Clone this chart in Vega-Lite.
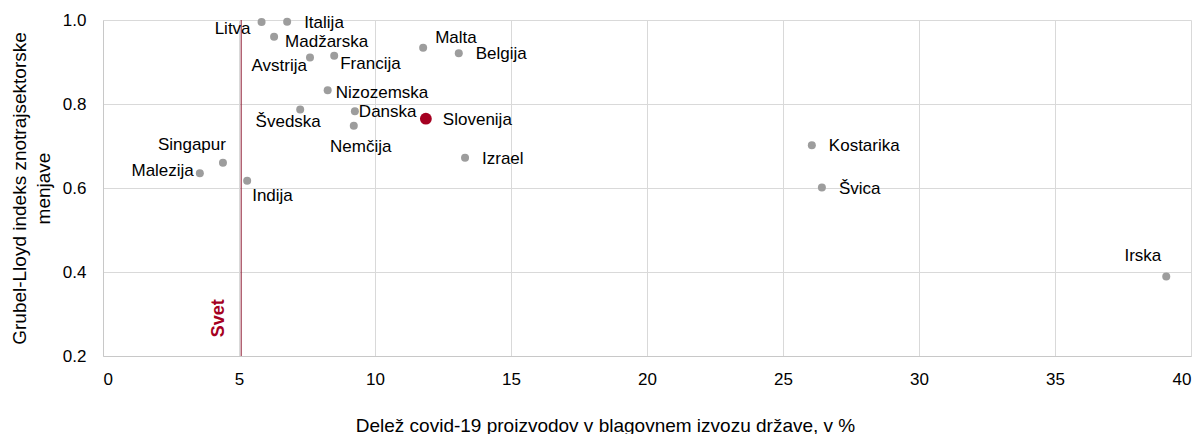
{
  "$schema": "https://vega.github.io/schema/vega-lite/v6.json",
  "width": 1088,
  "height": 336,
  "autosize": {"type": "none"},
  "padding": {"left": 103, "top": 20, "right": 12, "bottom": 78},
  "background": "white",
  "config": {
    "font": "Liberation Sans",
    "view": {"stroke": null},
    "axis": {
      "labelFont": "Liberation Sans",
      "labelFontSize": 17,
      "labelColor": "#000000",
      "titleFont": "Liberation Sans",
      "titleFontSize": 19,
      "titleFontWeight": "normal",
      "titleColor": "#000000",
      "gridColor": "#d9d9d9",
      "gridWidth": 1,
      "domainColor": "#c8c8c8",
      "ticks": false
    },
    "text": {"font": "Liberation Sans", "fontSize": 17, "color": "#000000", "baseline": "middle"}
  },
  "data": {
    "values": [
      {"country": "Litva", "x": 5.83, "y": 0.995},
      {"country": "Italija", "x": 6.77, "y": 0.996},
      {"country": "Madžarska", "x": 6.29, "y": 0.960},
      {"country": "Avstrija", "x": 7.61, "y": 0.911},
      {"country": "Francija", "x": 8.50, "y": 0.915},
      {"country": "Nizozemska", "x": 8.26, "y": 0.833},
      {"country": "Švedska", "x": 7.25, "y": 0.787},
      {"country": "Danska", "x": 9.26, "y": 0.783},
      {"country": "Nemčija", "x": 9.22, "y": 0.748},
      {"country": "Slovenija", "x": 11.87, "y": 0.765},
      {"country": "Malta", "x": 11.77, "y": 0.934},
      {"country": "Belgija", "x": 13.08, "y": 0.921},
      {"country": "Izrael", "x": 13.31, "y": 0.672},
      {"country": "Singapur", "x": 4.41, "y": 0.660},
      {"country": "Malezija", "x": 3.56, "y": 0.635},
      {"country": "Indija", "x": 5.30, "y": 0.617},
      {"country": "Kostarika", "x": 26.06, "y": 0.702},
      {"country": "Švica", "x": 26.43, "y": 0.601},
      {"country": "Irska", "x": 39.09, "y": 0.389}
    ]
  },
  "encoding": {
    "x": {
      "field": "x",
      "type": "quantitative",
      "scale": {"domain": [0, 40], "nice": false, "zero": false},
      "axis": {
        "values": [0, 5, 10, 15, 20, 25, 30, 35, 40],
        "title": "Delež covid-19 proizvodov v blagovnem izvozu države, v %",
        "labelPadding": 15,
        "titleX": 502,
        "titleY": 69,
        "titleBaseline": "middle",
        "titleAlign": "center",
        "titleAnchor": null,
        "grid": true
      }
    },
    "y": {
      "field": "y",
      "type": "quantitative",
      "scale": {"domain": [0.2, 1.0], "nice": false, "zero": false},
      "axis": {
        "values": [0.2, 0.4, 0.6, 0.8, 1.0],
        "format": ".1f",
        "title": ["Grubel-Lloyd indeks znotrajsektorske", "menjave"],
        "labelPadding": 17,
        "titlePadding": 9,
        "titleLineHeight": 24,
        "grid": true
      }
    }
  },
  "layer": [
    {
      "data": {"values": [{"x": 5.08, "y": 0.2, "y2": 1.0}]},
      "mark": {"type": "rule", "color": "#8c1830", "strokeWidth": 1},
      "encoding": {"y2": {"field": "y2"}}
    },
    {
      "data": {"values": [{"x": 5.08, "y": 0.29, "label": "Svet"}]},
      "mark": {"type": "text", "angle": 270, "align": "center", "baseline": "alphabetic", "dy": -17, "fontSize": 18, "fontWeight": "bold", "color": "#a50021"},
      "encoding": {"text": {"field": "label"}}
    },
    {
      "transform": [{"filter": "datum.country != 'Slovenija'"}],
      "mark": {"type": "circle", "size": 64, "color": "#9d9d9d", "opacity": 1}
    },
    {
      "transform": [{"filter": "datum.country == 'Slovenija'"}],
      "mark": {"type": "circle", "size": 140, "color": "#a50021", "opacity": 1}
    },
    {
      "transform": [{"filter": {"field": "country", "oneOf": ["Italija", "Belgija", "Slovenija", "Izrael", "Kostarika", "Švica"]}}],
      "mark": {"type": "text", "align": "left", "dx": 17, "dy": 1},
      "encoding": {"text": {"field": "country"}}
    },
    {
      "transform": [{"filter": {"field": "country", "equal": "Madžarska"}}],
      "mark": {"type": "text", "align": "left", "dx": 11, "dy": 5},
      "encoding": {"text": {"field": "country"}}
    },
    {
      "transform": [{"filter": {"field": "country", "equal": "Francija"}}],
      "mark": {"type": "text", "align": "left", "dx": 6, "dy": 8},
      "encoding": {"text": {"field": "country"}}
    },
    {
      "transform": [{"filter": {"field": "country", "equal": "Nizozemska"}}],
      "mark": {"type": "text", "align": "left", "dx": 8, "dy": 3},
      "encoding": {"text": {"field": "country"}}
    },
    {
      "transform": [{"filter": {"field": "country", "equal": "Danska"}}],
      "mark": {"type": "text", "align": "left", "dx": 4, "dy": 1},
      "encoding": {"text": {"field": "country"}}
    },
    {
      "transform": [{"filter": {"field": "country", "equal": "Malta"}}],
      "mark": {"type": "text", "align": "left", "dx": 12, "dy": -10},
      "encoding": {"text": {"field": "country"}}
    },
    {
      "transform": [{"filter": {"field": "country", "equal": "Indija"}}],
      "mark": {"type": "text", "align": "left", "dx": 5, "dy": 15},
      "encoding": {"text": {"field": "country"}}
    },
    {
      "transform": [{"filter": {"field": "country", "equal": "Litva"}}],
      "mark": {"type": "text", "align": "right", "dx": -11, "dy": 7},
      "encoding": {"text": {"field": "country"}}
    },
    {
      "transform": [{"filter": {"field": "country", "equal": "Avstrija"}}],
      "mark": {"type": "text", "align": "right", "dx": -3, "dy": 9},
      "encoding": {"text": {"field": "country"}}
    },
    {
      "transform": [{"filter": {"field": "country", "equal": "Singapur"}}],
      "mark": {"type": "text", "align": "right", "dx": 3, "dy": -18},
      "encoding": {"text": {"field": "country"}}
    },
    {
      "transform": [{"filter": {"field": "country", "equal": "Malezija"}}],
      "mark": {"type": "text", "align": "right", "dx": -6, "dy": -2},
      "encoding": {"text": {"field": "country"}}
    },
    {
      "transform": [{"filter": {"field": "country", "equal": "Irska"}}],
      "mark": {"type": "text", "align": "right", "dx": -5, "dy": -21},
      "encoding": {"text": {"field": "country"}}
    },
    {
      "transform": [{"filter": {"field": "country", "equal": "Švedska"}}],
      "mark": {"type": "text", "align": "center", "dx": -12, "dy": 13},
      "encoding": {"text": {"field": "country"}}
    },
    {
      "transform": [{"filter": {"field": "country", "equal": "Nemčija"}}],
      "mark": {"type": "text", "align": "center", "dx": 7, "dy": 21},
      "encoding": {"text": {"field": "country"}}
    }
  ]
}
